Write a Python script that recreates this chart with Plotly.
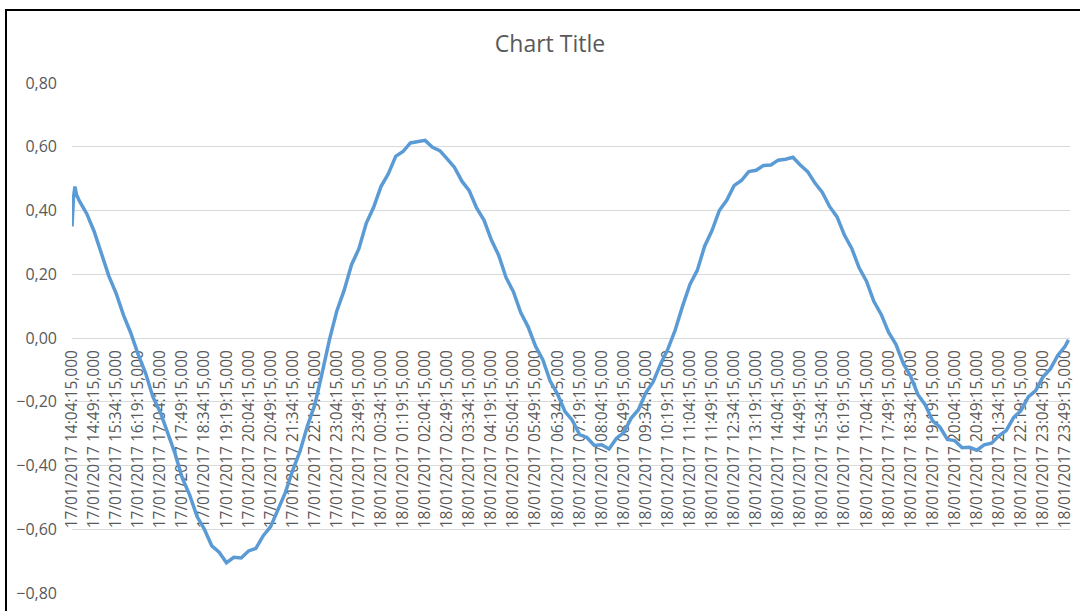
import pandas as pd
import plotly.graph_objects as go

title_text = "Chart Title"
start_time = "2017-01-17 14:04:15"
end_time = "2017-01-18 23:59:15"

# minutes elapsed since the first sample
minutes = [0, 3, 6, 9] + list(range(15, 2026, 15)) + [2032]

values = [
    0.35, 0.44, 0.475, 0.45,
    0.43, 0.39, 0.335, 0.265, 0.195, 0.14, 0.072, 0.015, -0.052, -0.11,
    -0.185, -0.233, -0.30, -0.362, -0.44, -0.493, -0.56, -0.60, -0.652, -0.672,
    -0.705, -0.688, -0.69, -0.668, -0.66, -0.62, -0.592, -0.538, -0.485, -0.415,
    -0.355, -0.276, -0.21, -0.11, -0.005, 0.085, 0.15, 0.23, 0.28, 0.36,
    0.41, 0.475, 0.515, 0.57, 0.585, 0.612, 0.615, 0.62, 0.598, 0.588,
    0.562, 0.535, 0.492, 0.462, 0.408, 0.37, 0.308, 0.26, 0.19, 0.145,
    0.08, 0.035, -0.025, -0.068, -0.135, -0.176, -0.23, -0.258, -0.303, -0.312,
    -0.337, -0.335, -0.348, -0.315, -0.297, -0.252, -0.225, -0.172, -0.138, -0.082,
    -0.035, 0.025, 0.10, 0.168, 0.212, 0.288, 0.337, 0.40, 0.432, 0.478,
    0.494, 0.522, 0.526, 0.541, 0.543, 0.558, 0.561, 0.567, 0.543, 0.522,
    0.486, 0.457, 0.412, 0.38, 0.323, 0.281, 0.22, 0.178, 0.115, 0.074,
    0.018, -0.02, -0.08, -0.12, -0.178, -0.21, -0.26, -0.28, -0.318, -0.322,
    -0.344, -0.343, -0.352, -0.335, -0.33, -0.307, -0.29, -0.25, -0.228, -0.185,
    -0.165, -0.122, -0.097, -0.055, -0.026,
    -0.006,
]

y_ticks = [-0.8, -0.6, -0.4, -0.2, 0.0, 0.2, 0.4, 0.6, 0.8]

times = pd.Timestamp(start_time) + pd.to_timedelta(minutes, unit="min")

fig = go.Figure()
fig.add_trace(go.Scatter(
    x=times, y=values, mode="lines",
    line=dict(color="#5B9BD5", width=3.5),
    showlegend=False, hoverinfo="skip",
))

fig.update_layout(
    width=1080, height=611,
    margin=dict(l=72, r=10, t=83, b=18),
    paper_bgcolor="white", plot_bgcolor="white",
    separators=",.",
    title=dict(text=title_text, x=550 / 1080, xref="container", xanchor="center",
               y=1 - 44 / 611, yref="container", yanchor="middle",
               font=dict(family="Open Sans", size=23, color="#595959")),
    xaxis=dict(
        type="date", range=[start_time, end_time],
        tick0=start_time, dtick=45 * 60 * 1000,
        tickformat="%d/%m/%Y %H:%M:%S,%L",
        tickangle=-90, showgrid=False, zeroline=False, showline=False,
        anchor="free", position=0.5, layer="below traces",
        tickfont=dict(family="Open Sans", size=15.5, color="#595959"),
        automargin=False, ticks="", ticklabelstandoff=8,
    ),
    yaxis=dict(
        range=[-0.8, 0.8], tickvals=y_ticks, tickformat=".2f",
        showgrid=True, gridcolor="#D9D9D9", gridwidth=1,
        zeroline=False, showline=False, ticks="",
        tickfont=dict(family="Open Sans", size=16, color="#595959"),
        ticklabelstandoff=14, automargin=False,
    ),
    shapes=[dict(type="rect", xref="paper", yref="paper",
                 x0=(6 - 72) / 998, x1=(1083 - 72) / 998,
                 y0=(593 - 615) / 510, y1=(593 - 10) / 510,
                 line=dict(color="black", width=2), fillcolor="rgba(0,0,0,0)",
                 layer="below")],
)

fig.write_html(
    "out.html",
    config={"displayModeBar": False},
    post_script="document.body.style.margin='0';document.body.style.overflow='hidden';",
)
